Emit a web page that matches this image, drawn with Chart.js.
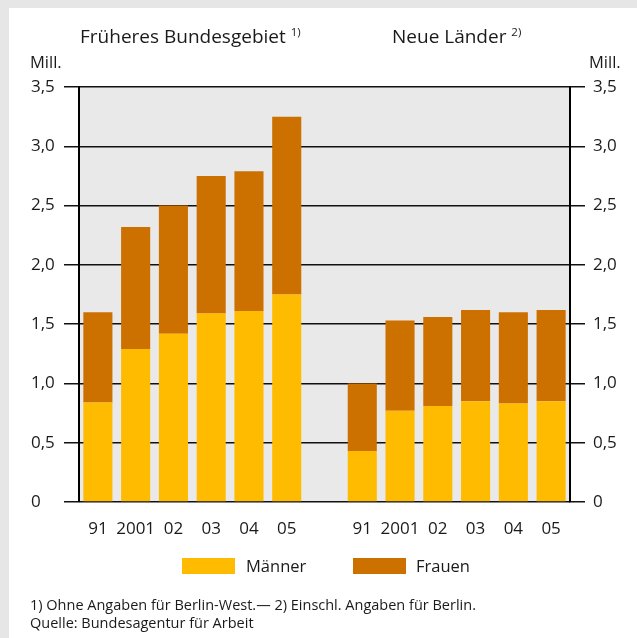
<!DOCTYPE html>
<html>
<head>
<meta charset="utf-8">
<script src="https://cdn.jsdelivr.net/npm/chart.js@4.4.1/dist/chart.umd.min.js"></script>
<style>
  html, body { margin:0; padding:0; background:#e6e6e6; }
  #wrap { position:relative; width:637px; height:638px; overflow:hidden; font-family:"Open Sans", sans-serif; color:#1a1a1a; }
  #panel { position:absolute; left:9px; top:8px; right:0; bottom:0; background:#ffffff; }
  #c { position:absolute; left:0; top:0; }
  .txt { position:absolute; white-space:nowrap; }
  .title { font-size:19px; line-height:19px; }
  .title sup { font-size:11.5px; line-height:0; vertical-align:7px; }
  .unit { font-size:16.5px; line-height:16.5px; }
  .foot { font-size:14.5px; line-height:14.5px; }
  .sw { position:absolute; width:53px; height:16px; }
  .lg { position:absolute; font-size:16.5px; line-height:16px; white-space:nowrap; }
</style>
</head>
<body>
<div id="wrap">
  <div id="panel"></div>
  <canvas id="c" width="637" height="638"></canvas>
  <div class="txt title" style="left:80px; top:27px;">Früheres Bundesgebiet <sup>1)</sup></div>
  <div class="txt title" style="left:392px; top:27px;">Neue Länder <sup>2)</sup></div>
  <div class="txt unit" style="left:30px; top:54px;">Mill.</div>
  <div class="txt unit" style="left:589px; top:54px;">Mill.</div>
  <div id="legend"></div>
  <div class="txt foot" style="left:30px; top:598px;">1) Ohne Angaben für Berlin-West.— 2) Einschl. Angaben für Berlin.</div>
  <div class="txt foot" style="left:30px; top:616px;">Quelle: Bundesagentur für Arbeit</div>
</div>
<script>
// ---- data ----
const yearsWest = ['91', '2001', '02', '03', '04', '05'];
const yearsEast = ['91', '2001', '02', '03', '04', '05'];
const maennerWest = [0.84, 1.29, 1.42, 1.59, 1.61, 1.75];
const frauenWest  = [0.76, 1.03, 1.08, 1.16, 1.18, 1.50];
const maennerOst  = [0.43, 0.77, 0.81, 0.85, 0.83, 0.85];
const frauenOst   = [0.57, 0.76, 0.75, 0.77, 0.77, 0.77];
const yMin = 0, yMax = 3.5, yStep = 0.5;
const seriesNames = ['Männer', 'Frauen'];
const seriesColors = ['#ffbb00', '#cc7000'];

const categories = [...yearsWest, '', ...yearsEast];
const maenner = [...maennerWest, null, ...maennerOst];
const frauen  = [...frauenWest, null, ...frauenOst];

const fmt = v => v === 0 ? '0' : v.toFixed(1).replace('.', ',');

const plotBg = {
  id: 'plotBg',
  beforeDraw(chart) {
    const {ctx, chartArea: a} = chart;
    ctx.save();
    ctx.fillStyle = '#e9e9e9';
    ctx.fillRect(a.left, a.top, a.right - a.left, a.bottom - a.top);
    ctx.restore();
  }
};

// HTML legend built from the series
const legendPos = [{sw: 182, tx: 246}, {sw: 353, tx: 416}];
const legendEl = document.getElementById('legend');
seriesNames.forEach((name, i) => {
  const sw = document.createElement('div');
  sw.className = 'sw';
  sw.style.left = legendPos[i].sw + 'px';
  sw.style.top = '558px';
  sw.style.background = seriesColors[i];
  legendEl.appendChild(sw);
  const t = document.createElement('div');
  t.className = 'lg';
  t.style.left = legendPos[i].tx + 'px';
  t.style.top = '558px';
  t.textContent = name;
  legendEl.appendChild(t);
});

const FONT = { family: '"Open Sans", sans-serif', size: 17 };

new Chart(document.getElementById('c'), {
  type: 'bar',
  data: {
    labels: categories,
    datasets: [
      { label: seriesNames[0], data: maenner, backgroundColor: seriesColors[0], borderWidth: 0 },
      { label: seriesNames[1], data: frauen,  backgroundColor: seriesColors[1], borderWidth: 0 }
    ]
  },
  options: {
    responsive: false,
    animation: false,
    events: [],
    layout: { padding: { top: 87, left: 31, right: 20, bottom: 96 } },
    datasets: { bar: { categoryPercentage: 1.0, barPercentage: 0.77 } },
    scales: {
      x: {
        stacked: true,
        grid: { display: false, drawTicks: false },
        border: { display: false },
        ticks: { color: '#1a1a1a', font: FONT, padding: 17, maxRotation: 0, autoSkip: false },
        afterFit(s) { s.height = 40; }
      },
      y: {
        stacked: true,
        position: 'left',
        min: yMin, max: yMax,
        ticks: { stepSize: yStep, color: '#1a1a1a', font: FONT, crossAlign: 'far', callback: v => fmt(v) },
        grid: { color: '#111', lineWidth: 1.5, tickLength: 15, drawTicks: true },
        border: { display: true, color: '#000', width: 2 },
        afterFit(s) { s.width = 48; }
      },
      y2: {
        display: true,
        position: 'right',
        min: yMin, max: yMax,
        ticks: { stepSize: yStep, color: '#1a1a1a', font: FONT, padding: 8, callback: v => fmt(v) },
        grid: { drawOnChartArea: false, color: '#111', lineWidth: 1.5, tickLength: 15 },
        border: { display: true, color: '#000', width: 2 },
        afterFit(s) { s.width = 47; }
      }
    },
    plugins: {
      legend: { display: false },
      tooltip: { enabled: false },
      title: { display: false }
    }
  },
  plugins: [plotBg]
});
</script>
</body>
</html>
